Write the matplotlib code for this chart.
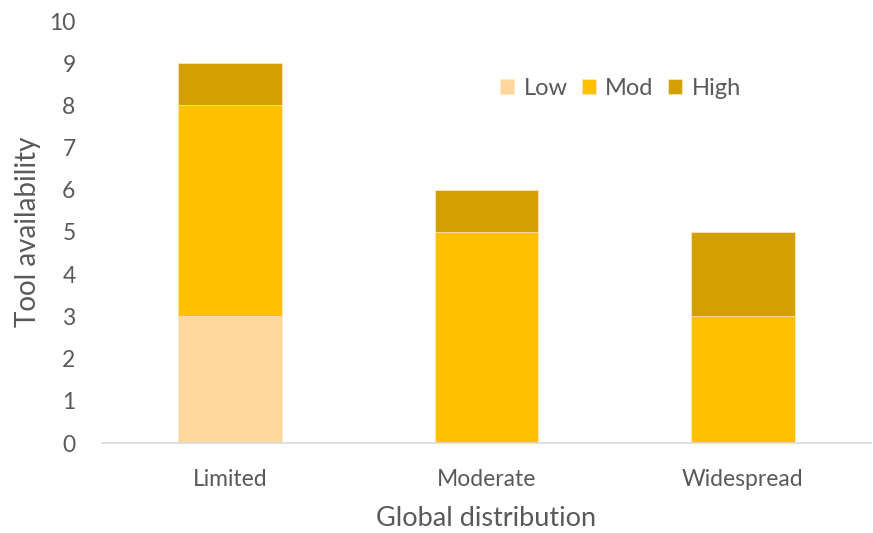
import matplotlib
matplotlib.use("Agg")
import matplotlib.pyplot as plt
import numpy as np

categories = ["Limited", "Moderate", "Widespread"]
low = [3, 0, 0]
mod = [5, 5, 3]
high = [1, 1, 2]
series_names = ["Low", "Mod", "High"]
colors = ["#FED79D", "#FFC000", "#D4A000"]

plt.rcParams['font.family'] = ['Lato', 'DejaVu Sans']
txt = "#595959"

fig = plt.figure(figsize=(8.73, 5.33), dpi=100)
ax = fig.add_axes([102/873, 90/533, 769/873, 422/533])
x = np.arange(len(categories))
w = 0.405
bottom = np.zeros(len(categories))
for vals, name, c in zip([low, mod, high], series_names, colors):
    ax.bar(x, vals, w, bottom=bottom, color=c, label=name, edgecolor="#FFE8C0", linewidth=0.5)
    bottom += np.array(vals)

ax.set_xlim(-0.5, 2.5)
ax.set_ylim(0, 10)
ax.set_yticks(range(0, 11))
ax.set_xticks(x)
ax.set_xticklabels(categories)
for s in ["top", "right", "left"]:
    ax.spines[s].set_visible(False)
ax.spines["bottom"].set_color("#D9D9D9")
ax.spines["bottom"].set_linewidth(1.2)
ax.tick_params(axis="both", length=0, labelsize=16.5, colors=txt)
ax.tick_params(axis="x", pad=18.5)
ax.tick_params(axis="y", pad=19)
ax.set_xlabel("Global distribution", fontsize=19.5, color=txt, labelpad=12)
ax.set_ylabel("Tool availability", fontsize=20, color=txt, labelpad=6)
ax.legend(loc="center", bbox_to_anchor=(0.674, 0.84), ncol=3, frameon=False,
          fontsize=17, labelcolor=txt, handlelength=0.6, handleheight=0.6,
          handletextpad=0.4, columnspacing=0.6)
fig.savefig("out.png", dpi=100)
